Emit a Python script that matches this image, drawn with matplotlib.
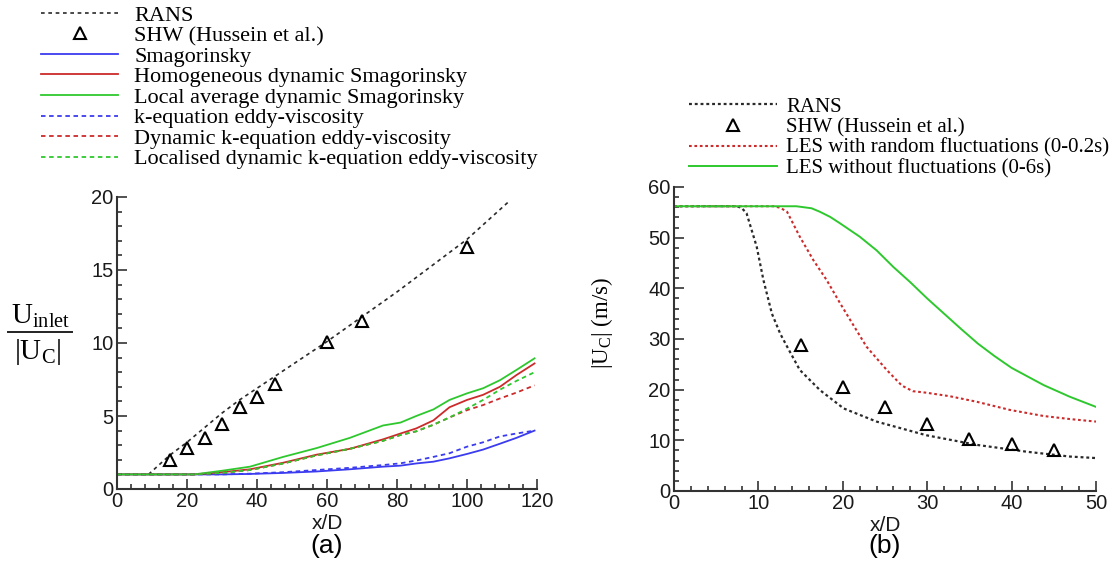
import matplotlib
matplotlib.use("Agg")
import matplotlib.pyplot as plt
from matplotlib.lines import Line2D
from matplotlib.ticker import MultipleLocator
from matplotlib.font_manager import FontProperties

plt.rcParams["font.family"] = "Liberation Sans"
plt.rcParams["mathtext.fontset"] = "custom"
plt.rcParams["mathtext.rm"] = "Liberation Serif"
plt.rcParams["mathtext.it"] = "Liberation Serif:italic"

# ---------------- (a) inverse centreline velocity decay ----------------
rans_a_x = [9, 15, 20, 25, 30, 35, 40, 45, 50, 60, 70, 80, 90, 100, 112]
rans_a_y = [1.0, 2.3, 3.2, 4.2, 5.2, 6.1, 6.9, 7.7, 8.5, 10.1, 11.8, 13.5, 15.3, 17.1, 19.7]

shw_a_x = [15, 20, 25, 30, 35, 40, 45, 60, 70, 100]
shw_a_y = [2.0, 2.8, 3.5, 4.45, 5.6, 6.3, 7.2, 10.1, 11.5, 16.6]

les_a_x = [0, 10, 22, 30, 38, 47.5, 57, 66.5, 76, 81, 85.5, 90.4, 95, 100, 104.6, 109.4, 114.1, 119.3]
smag_y = [1, 1, 1, 1.0, 1.03, 1.1, 1.2, 1.35, 1.53, 1.6, 1.75, 1.87, 2.1, 2.4, 2.7, 3.1, 3.5, 4.0]
homog_dyn_smag_y = [1, 1, 1, 1.15, 1.35, 1.8, 2.35, 2.75, 3.4, 3.8, 4.15, 4.7, 5.6, 6.1, 6.45, 7.0, 7.8, 8.6]
local_dyn_smag_y = [1, 1, 1, 1.25, 1.53, 2.2, 2.8, 3.5, 4.35, 4.55, 5.0, 5.45, 6.1, 6.55, 6.9, 7.45, 8.15, 8.95]
keq_y = [1, 1, 1, 1.0, 1.05, 1.15, 1.3, 1.45, 1.64, 1.76, 1.95, 2.2, 2.45, 2.9, 3.2, 3.6, 3.8, 4.0]
dyn_keq_y = [1, 1, 1, 1.1, 1.3, 1.75, 2.3, 2.75, 3.3, 3.7, 3.95, 4.4, 4.9, 5.4, 5.75, 6.2, 6.6, 7.1]
loc_dyn_keq_y = [1, 1, 1, 1.1, 1.3, 1.75, 2.3, 2.75, 3.3, 3.7, 3.95, 4.4, 4.9, 5.5, 6.1, 6.8, 7.4, 8.0]

labels_a = ["RANS", "SHW (Hussein et al.)", "Smagorinsky",
            "Homogeneous dynamic Smagorinsky", "Local average dynamic Smagorinsky",
            "k-equation eddy-viscosity", "Dynamic k-equation eddy-viscosity",
            "Localised dynamic k-equation eddy-viscosity"]

# ---------------- (b) centreline velocity magnitude ----------------
rans_b_x = [0, 7.4, 8.0, 8.6, 9.8, 10.6, 11.6, 12.6, 13.4, 14.9, 17.3, 20.1, 24.0, 29.9, 35.9, 41.8, 46.9, 50]
rans_b_y = [56.2, 56.2, 55.9, 54.8, 48.2, 41.6, 35.0, 31.0, 28.5, 23.9, 19.9, 16.3, 13.7, 11.0, 9.1, 7.75, 6.8, 6.5]

shw_b_x = [15, 20, 25, 30, 35, 40, 45]
shw_b_y = [28.8, 20.6, 16.6, 13.2, 10.3, 9.2, 8.1]

les_fluct_x = [0, 11.8, 12.6, 13.4, 14.9, 16.5, 18.1, 19.7, 20.9, 22.8, 25.2, 27.0, 28.3, 29.9,
               32.7, 35.9, 39.8, 43.8, 46.9, 50]
les_fluct_y = [56.2, 56.2, 55.9, 55.1, 50.2, 45.6, 41.6, 37.0, 33.7, 28.5, 23.9, 20.8, 19.7, 19.4,
               18.7, 17.6, 16.0, 14.8, 14.2, 13.7]

les_nofluct_x = [0, 14.5, 16.3, 17.3, 18.5, 19.7, 22.0, 24.0, 26.0, 28, 30, 32, 34, 36, 38, 40,
                 43.8, 46.9, 50]
les_nofluct_y = [56.2, 56.2, 55.8, 55.1, 54.1, 52.8, 50.2, 47.5, 44.2, 41.2, 38.0, 35.0, 32.0,
                 29.1, 26.6, 24.3, 20.9, 18.6, 16.6]

labels_b = ["RANS", "SHW (Hussein et al.)",
            "LES with random fluctuations (0-0.2s)", "LES without fluctuations (0-6s)"]

BLUE = "#3b3bf0"
RED = "#cc2b2b"
GREEN = "#2ec82e"
BLACK = "#2a2a2a"

W, H = 1114, 565
fig = plt.figure(figsize=(W / 100, H / 100), dpi=100)
axa = fig.add_axes([117 / W, 1 - 489 / H, 420 / W, 292 / H])
axb = fig.add_axes([674 / W, 1 - 491 / H, 422 / W, 304 / H])

tri = dict(linestyle="none", marker="^", markersize=8, markerfacecolor="none",
           markeredgecolor="black", markeredgewidth=1.5)

h_rans_a, = axa.plot(rans_a_x, rans_a_y, color=BLACK, lw=1.2, ls=(0, (2.2, 2.2)))
h_shw_a, = axa.plot(shw_a_x, shw_a_y, **tri)
h_smag, = axa.plot(les_a_x, smag_y, color=BLUE, lw=1.3)
h_homog, = axa.plot(les_a_x, homog_dyn_smag_y, color=RED, lw=1.3)
h_local, = axa.plot(les_a_x, local_dyn_smag_y, color=GREEN, lw=1.3)
h_keq, = axa.plot(les_a_x, keq_y, color=BLUE, lw=1.3, ls=(0, (2.5, 2)))
h_dkeq, = axa.plot(les_a_x, dyn_keq_y, color=RED, lw=1.3, ls=(0, (2.5, 2)))
h_ldkeq, = axa.plot(les_a_x, loc_dyn_keq_y, color=GREEN, lw=1.3, ls=(0, (2.5, 2)))

h_rans_b, = axb.plot(rans_b_x, rans_b_y, color=BLACK, lw=1.6, ls=(0, (1.3, 1.3)))
h_shw_b, = axb.plot(shw_b_x, shw_b_y, **tri)
h_fl, = axb.plot(les_fluct_x, les_fluct_y, color=RED, lw=1.5, ls=(0, (1.3, 1.3)))
h_nf, = axb.plot(les_nofluct_x, les_nofluct_y, color=GREEN, lw=1.4)

for ax in (axa, axb):
    for s in ("top", "right"):
        ax.spines[s].set_visible(False)
    for s in ("left", "bottom"):
        ax.spines[s].set_linewidth(1.5)
        ax.spines[s].set_color("#333333")
    ax.tick_params(which="both", direction="in", color="#333333", width=1.2)
    ax.tick_params(which="major", length=7, labelsize=14.5, pad=2.5, labelcolor="#1a1a1a")
    ax.tick_params(which="minor", length=3.5)

axa.set_xlim(0, 120)
axa.set_ylim(0, 20)
axa.xaxis.set_major_locator(MultipleLocator(20))
axa.xaxis.set_minor_locator(MultipleLocator(4))
axa.yaxis.set_major_locator(MultipleLocator(5))
axa.yaxis.set_minor_locator(MultipleLocator(1))

axb.set_xlim(0, 50)
axb.set_ylim(0, 60)
axb.xaxis.set_major_locator(MultipleLocator(10))
axb.xaxis.set_minor_locator(MultipleLocator(2))
axb.yaxis.set_major_locator(MultipleLocator(10))
axb.yaxis.set_minor_locator(MultipleLocator(2))

axa.set_xlabel("x/D", fontsize=15, color="#1a1a1a")
axa.xaxis.set_label_coords(0.5, -0.084)
axb.set_xlabel("x/D", fontsize=15, color="#1a1a1a")
axb.xaxis.set_label_coords(0.5, -0.081)

# y-axis label of (a): U_inlet over |U_C|
fig.text(41 / W, 1 - 316 / H, r"$\mathrm{U_{inlet}}$", fontsize=21, ha="center", va="center")
fig.add_artist(Line2D([8 / W, 72 / W], [1 - 332 / H] * 2, color="#222222", lw=1.4))
fig.text(38 / W, 1 - 352 / H, r"$\mathrm{|U_C|}$", fontsize=21, ha="center", va="center")

axb.set_ylabel(r"$\mathrm{|U_C|}$ (m/s)", fontsize=16.5, family="Liberation Serif")
axb.yaxis.set_label_coords((615 - 674) / 422, (491 - 323) / 304)

fig.text(327 / W, 1 - 546 / H, "(a)", fontsize=19, ha="center", va="center")
fig.text(885 / W, 1 - 546 / H, "(b)", fontsize=19, ha="center", va="center")

fs_a, fs_b = 16.0, 15.0
em_a, em_b = fs_a * 100 / 72, fs_b * 100 / 72
fig.legend([h_rans_a, h_shw_a, h_smag, h_homog, h_local, h_keq, h_dkeq, h_ldkeq], labels_a,
           loc="upper left", bbox_to_anchor=(41 / W, 1 - 5 / H), frameon=False,
           prop=FontProperties(family="Liberation Serif", size=fs_a),
           handlelength=77 / em_a, handletextpad=16 / em_a, labelspacing=0.0, borderpad=0,
           borderaxespad=0, numpoints=1)
fig.legend([h_rans_b, h_shw_b, h_fl, h_nf], labels_b,
           loc="upper left", bbox_to_anchor=(689 / W, 1 - 97 / H), frameon=False,
           prop=FontProperties(family="Liberation Serif", size=fs_b),
           handlelength=88 / em_b, handletextpad=9 / em_b, labelspacing=0.05, borderpad=0,
           borderaxespad=0, numpoints=1)

fig.savefig("out.png", dpi=100)
